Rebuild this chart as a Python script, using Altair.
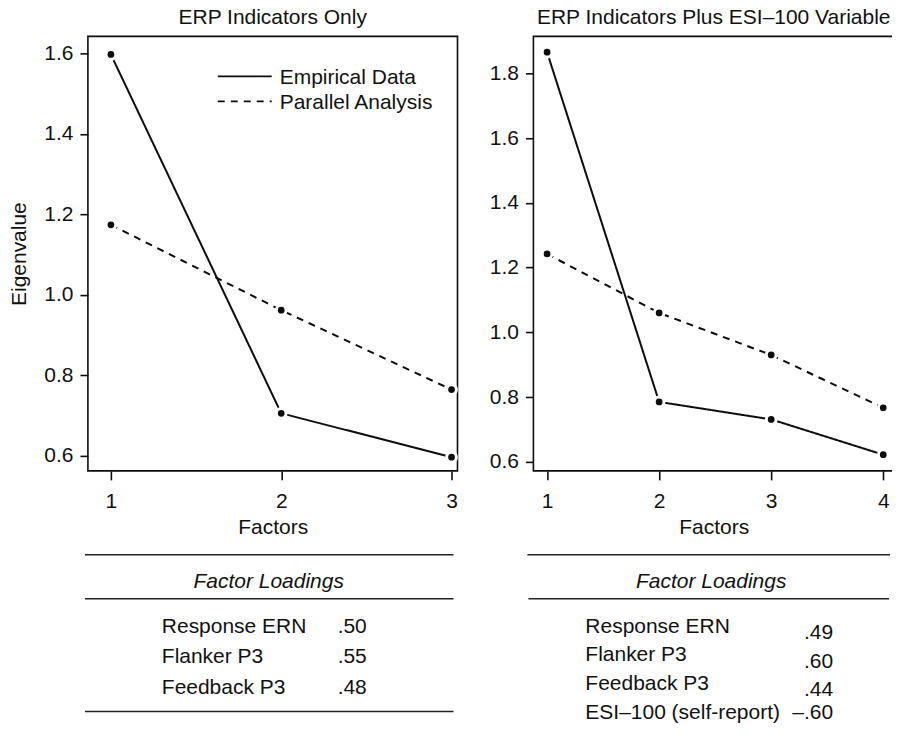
import altair as alt
import pandas as pd

# ---------------- data ----------------
series_names = ["Empirical Data", "Parallel Analysis"]

left_title = "ERP Indicators Only"
left_factors = [1, 2, 3]
left_empirical = [1.597, 0.706, 0.597]
left_parallel = [1.174, 0.962, 0.765]
left_yticks = [0.6, 0.8, 1.0, 1.2, 1.4, 1.6]

right_title = "ERP Indicators Plus ESI\u2013100 Variable"
right_factors = [1, 2, 3, 4]
right_empirical = [1.865, 0.785, 0.731, 0.622]
right_parallel = [1.242, 1.060, 0.930, 0.767]
right_yticks = [0.6, 0.8, 1.0, 1.2, 1.4, 1.6, 1.8]

table_header = "Factor Loadings"
left_items = ["Response ERN", "Flanker P3", "Feedback P3"]
left_loadings = [".50", ".55", ".48"]
right_items = ["Response ERN", "Flanker P3", "Feedback P3", "ESI\u2013100 (self-report)"]
right_loadings = [".49", ".60", ".44", "\u2013.60"]

# ---------------- style ----------------
FONT = "Liberation Sans"
FS = 21
INK = "#111111"
LINE = "#0d0d0d"
DASH = [7, 6]
dash_scale = alt.Scale(domain=series_names, range=[[1, 0], DASH])


def long_frame(factors, emp, par):
    rows = []
    for f, v in zip(factors, emp):
        rows.append({"factor": f, "value": v, "series": series_names[0]})
    for f, v in zip(factors, par):
        rows.append({"factor": f, "value": v, "series": series_names[1]})
    return pd.DataFrame(rows)


def panel(title, factors, emp, par, xdom, ydom, yticks, width, ytitle, legend):
    df = long_frame(factors, emp, par)
    base = alt.Chart(df)
    x = alt.X("factor:Q", scale=alt.Scale(domain=xdom, nice=False, zero=False),
              axis=alt.Axis(values=factors, format="d", title="Factors", labelFlush=False))
    y = alt.Y("value:Q", scale=alt.Scale(domain=ydom, nice=False, zero=False),
              axis=alt.Axis(values=yticks, format=".1f", title=ytitle, labelFlush=False))
    lines = base.mark_line(color=LINE, strokeWidth=2).encode(
        x=x, y=y,
        strokeDash=alt.StrokeDash("series:N", scale=dash_scale, legend=None),
        detail="series:N",
    )
    pts = base.mark_circle(size=95, opacity=1, color=LINE, stroke="white",
                           strokeWidth=3).encode(x=x, y=y)
    ttl = alt.Chart(pd.DataFrame({"t": [title]})).mark_text(
        align="center", baseline="alphabetic", font=FONT, fontSize=FS, color=INK
    ).encode(x=alt.value(width / 2), y=alt.value(-12), text="t:N")
    layers = [lines, pts, ttl]
    if legend:
        leg = pd.DataFrame({"series": series_names})
        for i, name in enumerate(series_names):
            sub = alt.Chart(leg).transform_filter(alt.datum.series == name)
            layers.append(sub.mark_rule(color=LINE, strokeWidth=1.7,
                                        strokeDash=[1, 0] if i == 0 else DASH).encode(
                x=alt.value(130), x2=alt.value(184), y=alt.value(40 + 25 * i)))
            layers.append(sub.mark_text(align="left", baseline="middle", font=FONT,
                                        fontSize=FS, color=INK).encode(
                x=alt.value(192), y=alt.value(42 + 25 * i), text="series:N"))
    return alt.layer(*layers).properties(width=width, height=435)


def table(items, loadings, width, label_x, value_x, value_align, rows_range,
          rule_specs, header_x, value_dy, last_dy):
    df = pd.DataFrame({"item": items, "loading": loadings, "row": list(range(len(items)))})
    yenc = alt.Y("item:N", sort=items,
                 scale=alt.Scale(type="point", range=rows_range, padding=0), axis=None)
    base = alt.Chart(df)
    labels = base.mark_text(align="left", baseline="middle", font=FONT, fontSize=FS,
                            color=INK).encode(x=alt.value(label_x), y=yenc, text="item:N")
    n = len(items)
    vals_a = base.transform_filter(alt.datum.row < n - 1).mark_text(
        align=value_align, baseline="middle", font=FONT, fontSize=FS, color=INK,
        dy=value_dy).encode(x=alt.value(value_x), y=yenc, text="loading:N")
    vals_b = base.transform_filter(alt.datum.row == n - 1).mark_text(
        align=value_align, baseline="middle", font=FONT, fontSize=FS, color=INK,
        dy=last_dy).encode(x=alt.value(value_x), y=yenc, text="loading:N")
    hdr = pd.DataFrame({"t": [table_header]})
    header = alt.Chart(hdr).mark_text(align="center", baseline="middle", font=FONT,
                                      fontSize=FS, fontStyle="italic", color=INK).encode(
        x=alt.value(header_x), y=alt.value(27), text="t:N")
    layers = [header, labels, vals_a, vals_b]
    for (x1, x2, yy) in rule_specs:
        layers.append(alt.Chart(hdr).mark_rule(color="#222222", strokeWidth=1.5).encode(
            x=alt.value(x1), x2=alt.value(x2), y=alt.value(yy)))
    return alt.layer(*layers).properties(
        width=width, height=158, view=alt.ViewBackground(strokeOpacity=0))


p1 = panel(left_title, left_factors, left_empirical, left_parallel,
           [0.865, 3.035], [0.563, 1.642], left_yticks, 370, "Eigenvalue", True)
p2 = panel(right_title, right_factors, right_empirical, right_parallel,
           [0.878, 4.096], [0.572, 1.914], right_yticks, 361, None, False)

t1 = table(left_items, left_loadings, 370, 74, 250, "left", [72, 133],
           [(-3, 366, 0), (-3, 366, 44), (-3, 366, 157)], 181, 0, 0)
t2 = table(right_items, right_loadings, 361, 52, 300, "right", [72, 158],
           [(-6, 357, 0), (-5, 356, 44)], 178, 6.5, 0)

chart = alt.concat(p1, p2, t1, t2, columns=2,
                   spacing={"row": 84, "column": 76},
                   bounds="flush", align="each").properties(
    padding={"left": 0, "top": -2, "right": -3, "bottom": 0}
).configure_axis(
    domain=False, grid=False, tickColor=LINE, tickWidth=1.6, tickSize=8,
    labelFont=FONT, labelFontSize=FS, labelColor=INK, labelPadding=7,
    titleFont=FONT, titleFontSize=FS, titleColor=INK, titleFontWeight="normal",
).configure_axisX(
    labelPadding=11, tickSize=9, titlePadding=5,
).configure_axisY(
    titlePadding=14,
).configure_view(
    stroke=LINE, strokeWidth=1.6,
)

chart.save("out.html", embed_options={"renderer": "svg", "actions": False})
